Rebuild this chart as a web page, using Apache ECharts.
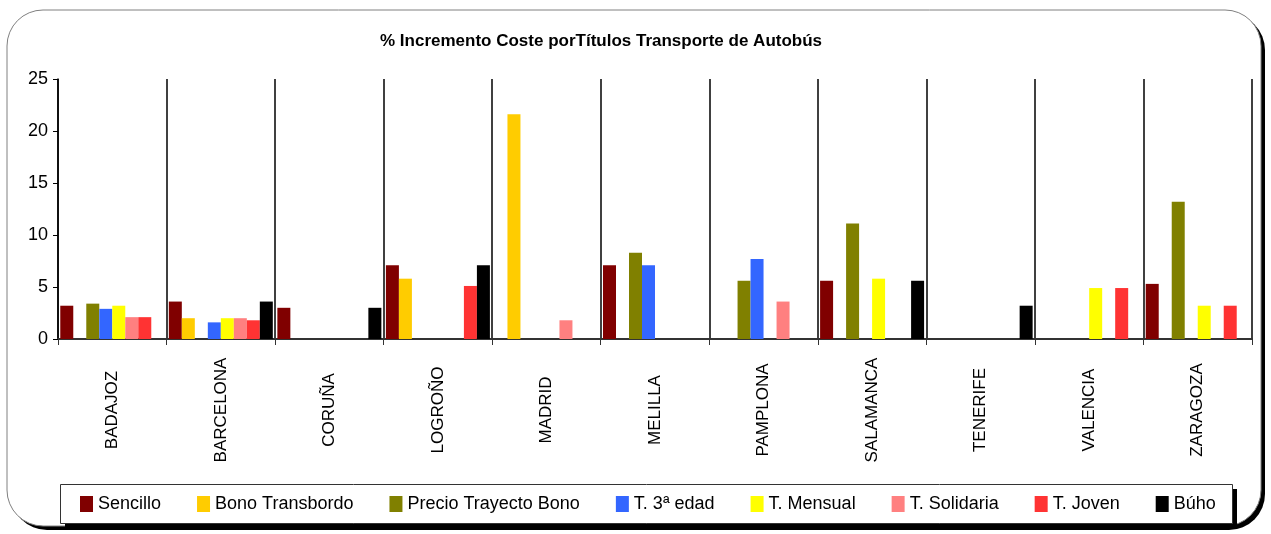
<!DOCTYPE html>
<html>
<head>
<meta charset="utf-8">
<script src="https://cdn.jsdelivr.net/npm/echarts@6/dist/echarts.min.js"></script>
<style>
  html, body { margin: 0; padding: 0; background: #fff; }
  #chart { width: 1271px; height: 534px; }
</style>
</head>
<body>
<div id="chart"></div>
<script>
/* datos */
const ciudades = ['BADAJOZ', 'BARCELONA', 'CORUÑA', 'LOGROÑO', 'MADRID', 'MELILLA',
  'PAMPLONA', 'SALAMANCA', 'TENERIFE', 'VALENCIA', 'ZARAGOZA'];

const sencillo        = [3.2, 3.6, 3.0, 7.1, null, 7.1, null, 5.6, null, null, 5.3];
const bonoTransbordo  = [null, 2.0, null, 5.8, 21.6, null, null, null, null, null, null];
const precioTrayecto  = [3.4, null, null, null, null, 8.3, 5.6, 11.1, null, null, 13.2];
const tercerEdad      = [2.9, 1.6, null, null, null, 7.1, 7.7, null, null, null, null];
const mensual         = [3.2, 2.0, null, null, null, null, null, 5.8, null, 4.9, 3.2];
const solidaria       = [2.1, 2.0, null, null, 1.8, null, 3.6, null, null, null, null];
const joven           = [2.1, 1.8, null, 5.1, null, null, null, null, null, 4.9, 3.2];
const buho            = [null, 3.6, 3.0, 7.1, null, null, null, 5.6, 3.2, null, null];

const yTicks = [0, 5, 10, 15, 20, 25];

const series = [
  { name: 'Sencillo', data: sencillo, color: '#800000' },
  { name: 'Bono Transbordo', data: bonoTransbordo, color: '#FFCC00' },
  { name: 'Precio Trayecto Bono', data: precioTrayecto, color: '#808000' },
  { name: 'T. 3ª edad', data: tercerEdad, color: '#3366FF' },
  { name: 'T. Mensual', data: mensual, color: '#FFFF00' },
  { name: 'T. Solidaria', data: solidaria, color: '#FF8080' },
  { name: 'T. Joven', data: joven, color: '#FF3333' },
  { name: 'Búho', data: buho, color: '#000000' }
];

const FONT = "'Liberation Sans', Arial, sans-serif";

const chart = echarts.init(document.getElementById('chart'));
chart.setOption({
  animation: false,
  backgroundColor: '#fff',
  graphic: [
    /* marco con sombra */
    {
      type: 'rect', z: -12, silent: true,
      shape: { x: 11, y: 14, width: 1254, height: 516, r: 36 },
      style: { fill: '#000' }
    },
    {
      type: 'rect', z: -11, silent: true,
      shape: { x: 7, y: 10, width: 1254, height: 516, r: 36 },
      style: { fill: '#fff', stroke: '#808080', lineWidth: 1 }
    },
    /* caja de la leyenda */
    {
      type: 'rect', z: -10, silent: true,
      shape: { x: 65, y: 489, width: 1172, height: 39 },
      style: { fill: '#000' }
    },
    {
      type: 'rect', z: -9, silent: true,
      shape: { x: 60.5, y: 484.5, width: 1172, height: 39 },
      style: { fill: '#fff', stroke: '#333', lineWidth: 1 }
    },
    {
      type: 'text',
      left: 380,
      top: 33,
      style: {
        text: '% Incremento Coste porTítulos Transporte de Autobús',
        font: "bold 17px " + FONT,
        fill: '#000'
      }
    }
  ],
  legend: {
    left: 60,
    top: 484,
    itemWidth: 13,
    itemHeight: 16,
    itemGap: 36,
    icon: 'rect',
    padding: [11, 19, 12, 20],
    textStyle: { fontFamily: FONT, fontSize: 18, color: '#000' }
  },
  grid: { left: 58, right: 19, top: 79, bottom: 195 },
  xAxis: {
    type: 'category',
    data: ciudades,
    axisLine: { lineStyle: { color: '#333', width: 2 } },
    axisTick: { show: true, length: 6, lineStyle: { color: '#333' } },
    splitLine: { show: true, lineStyle: { color: '#000', width: 1.5 } },
    axisLabel: {
      interval: 0,
      rotate: 90,
      align: 'center',
      verticalAlign: 'middle',
      margin: 71,
      fontFamily: FONT,
      fontSize: 17,
      color: '#000'
    }
  },
  yAxis: {
    type: 'value',
    min: yTicks[0],
    max: yTicks[yTicks.length - 1],
    interval: 5,
    axisLine: { show: true, lineStyle: { color: '#000', width: 1.5 } },
    axisTick: { show: true, length: 5, lineStyle: { color: '#000' } },
    splitLine: { show: false },
    axisLabel: { fontFamily: FONT, fontSize: 18, color: '#000', margin: 10 }
  },
  series: series.map(s => ({
    name: s.name,
    type: 'bar',
    data: s.data,
    barWidth: 13,
    barGap: '0%',
    itemStyle: { color: s.color }
  }))
});
</script>
</body>
</html>
